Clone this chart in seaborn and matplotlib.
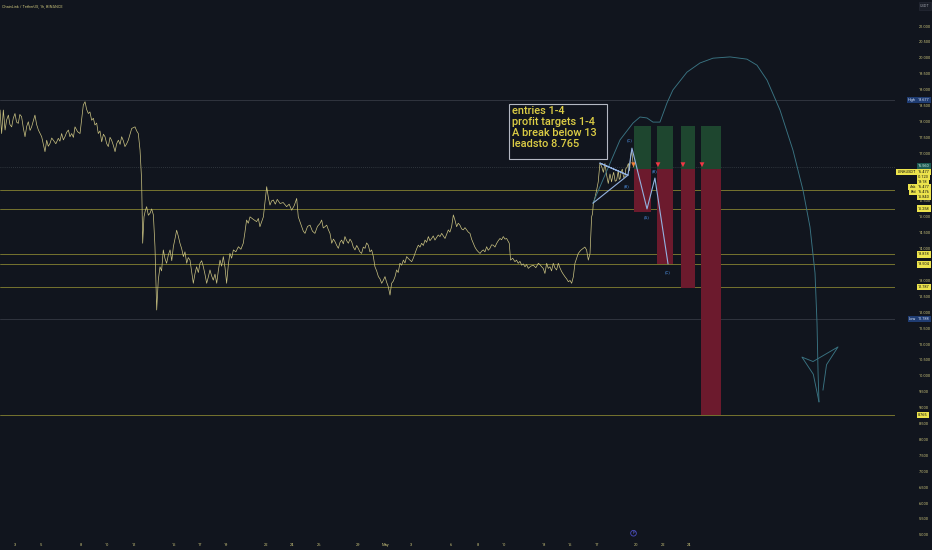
import numpy as np
import pandas as pd
import matplotlib.pyplot as plt
import matplotlib.transforms as mtransforms
from matplotlib.patches import Rectangle
import seaborn as sns

# Price path, LINK/USDT 1h: (days since Apr 1, price)
price_path = [
    (0.88, 18.36), (1.00, 17.62), (1.13, 18.36), (1.26, 17.73), (1.38, 18.05), (1.51, 18.20),
    (1.63, 17.90), (1.76, 17.83), (1.88, 18.10), (2.01, 18.25), (2.13, 17.98), (2.26, 17.94),
    (2.38, 18.22), (2.51, 18.15), (2.64, 17.80), (2.77, 17.52), (2.90, 17.85), (3.02, 17.99),
    (3.15, 17.72), (3.27, 17.83), (3.40, 18.02), (3.52, 18.20), (3.65, 17.90), (3.78, 17.73),
    (4.03, 17.52), (4.15, 17.30), (4.28, 17.05), (4.41, 17.41), (4.53, 17.22), (4.66, 17.31),
    (4.79, 17.48), (4.91, 17.41), (5.10, 17.30), (5.29, 17.47), (5.41, 17.38), (5.54, 17.62),
    (5.67, 17.42), (5.79, 17.52), (5.92, 17.66), (6.05, 17.73), (6.17, 17.52), (6.30, 17.62),
    (6.43, 17.50), (6.55, 17.83), (6.74, 17.68), (6.93, 17.62), (7.18, 18.52), (7.31, 18.62),
    (7.43, 18.38), (7.56, 18.25), (7.68, 18.30), (7.81, 18.04), (7.94, 18.10), (8.06, 17.89),
    (8.19, 17.95), (8.31, 17.62), (8.44, 17.70), (8.57, 17.36), (8.70, 17.60), (8.82, 17.52),
    (8.95, 17.30), (9.07, 17.21), (9.20, 17.50), (9.32, 17.41), (9.45, 17.25), (9.58, 17.05),
    (9.70, 17.30), (9.83, 17.41), (9.96, 17.28), (10.08, 17.52), (10.20, 17.40), (10.33, 17.21),
    (10.46, 17.30), (10.58, 17.41), (10.71, 17.60), (10.84, 17.78), (11.09, 17.83), (11.22, 17.70),
    (11.34, 17.62), (11.47, 17.10), (11.59, 16.16), (11.67, 14.17), (11.77, 15.00), (11.87, 15.20),
    (11.97, 15.32), (12.10, 15.05), (12.22, 15.11), (12.35, 15.25), (12.48, 15.06), (12.60, 14.06),
    (12.73, 12.07), (12.85, 13.01), (12.98, 13.43), (13.10, 13.30), (13.23, 13.96), (13.35, 13.70),
    (13.48, 13.54), (13.61, 13.80), (13.74, 13.96), (13.87, 13.62), (13.99, 14.06), (14.11, 14.30),
    (14.24, 14.58), (14.36, 14.40), (14.49, 14.17), (14.62, 14.00), (14.75, 13.75), (14.87, 13.90),
    (15.00, 13.54), (15.12, 13.72), (15.25, 13.64), (15.37, 13.30), (15.50, 12.91), (15.62, 13.20),
    (15.75, 13.43), (15.88, 13.25), (16.01, 13.54), (16.13, 13.62), (16.26, 13.43), (16.38, 13.20),
    (16.51, 12.91), (16.63, 13.10), (16.76, 13.33), (16.88, 13.15), (17.01, 13.01), (17.14, 13.20),
    (17.27, 12.91), (17.39, 13.30), (17.52, 13.64), (17.64, 13.45), (17.77, 13.75), (17.90, 13.40),
    (18.02, 12.91), (18.15, 13.50), (18.27, 13.85), (18.40, 13.70), (18.53, 13.96), (18.72, 13.90),
    (18.91, 14.06), (19.10, 13.98), (19.28, 14.17), (19.40, 14.50), (19.53, 14.90), (19.66, 14.80),
    (19.79, 15.00), (20.04, 14.92), (20.29, 14.85), (20.42, 14.95), (20.54, 14.69), (20.67, 14.85),
    (20.80, 15.00), (21.05, 15.95), (21.18, 15.60), (21.30, 15.37), (21.42, 15.50), (21.55, 15.53),
    (21.70, 15.40), (21.85, 15.55), (22.06, 15.42), (22.30, 15.45), (22.56, 15.32), (22.75, 15.40),
    (22.94, 15.21), (23.13, 15.35), (23.32, 15.58), (23.44, 15.00), (23.57, 14.85), (23.70, 14.69),
    (23.82, 14.55), (23.95, 14.48), (24.14, 14.70), (24.33, 14.74), (24.51, 14.55), (24.70, 14.48),
    (24.89, 14.70), (25.08, 14.79), (25.21, 14.90), (25.33, 14.65), (25.46, 14.69), (25.59, 14.74),
    (25.71, 14.60), (25.84, 14.48), (25.97, 14.17), (26.10, 14.30), (26.22, 14.22), (26.35, 14.10),
    (26.47, 14.01), (26.60, 14.20), (26.72, 14.27), (26.85, 14.15), (26.97, 14.38), (27.10, 14.25),
    (27.23, 14.17), (27.35, 14.30), (27.48, 14.22), (27.60, 14.05), (27.73, 13.96), (27.86, 14.10),
    (27.98, 14.01), (28.10, 13.90), (28.23, 13.85), (28.36, 14.05), (28.49, 14.01), (28.61, 14.18),
    (28.74, 14.11), (28.86, 13.90), (28.99, 13.96), (29.12, 13.75), (29.24, 13.43), (29.37, 13.30),
    (29.50, 13.12), (29.62, 13.05), (29.75, 12.91), (29.87, 13.00), (30.00, 13.12), (30.12, 12.95),
    (30.25, 12.80), (30.38, 12.54), (30.50, 12.91), (30.63, 12.98), (30.76, 13.12), (30.88, 13.33),
    (31.00, 13.25), (31.13, 13.54), (31.26, 13.48), (31.39, 13.64), (31.51, 13.55), (31.64, 13.75),
    (31.83, 13.66), (32.02, 13.59), (32.14, 13.70), (32.27, 13.85), (32.40, 14.00), (32.52, 14.11),
    (32.65, 14.05), (32.77, 14.17), (32.90, 14.10), (33.03, 14.27), (33.15, 14.20), (33.28, 14.38),
    (33.40, 14.25), (33.53, 14.32), (33.65, 14.40), (33.78, 14.27), (33.90, 14.35), (34.03, 14.43),
    (34.16, 14.38), (34.29, 14.48), (34.41, 14.40), (34.54, 14.32), (34.66, 14.45), (34.79, 14.59),
    (34.91, 14.52), (35.04, 14.69), (35.17, 15.06), (35.29, 14.90), (35.42, 14.69), (35.54, 14.80),
    (35.67, 14.74), (35.80, 14.62), (35.92, 14.59), (36.05, 14.66), (36.18, 14.59), (36.30, 14.52),
    (36.43, 14.48), (36.55, 14.30), (36.68, 14.17), (36.80, 14.05), (36.93, 13.96), (37.06, 13.90),
    (37.19, 13.85), (37.31, 13.92), (37.44, 13.96), (37.56, 13.90), (37.69, 14.06), (37.81, 13.95),
    (37.94, 14.01), (38.06, 14.12), (38.19, 14.11), (38.32, 14.05), (38.45, 14.17), (38.57, 14.25),
    (38.70, 14.32), (38.82, 14.28), (38.95, 14.38), (39.08, 14.30), (39.20, 14.32), (39.40, 14.17),
    (39.50, 13.64), (39.66, 13.70), (39.83, 13.59), (39.95, 13.64), (40.08, 13.54), (40.21, 13.60),
    (40.34, 13.48), (40.46, 13.52), (40.59, 13.43), (40.71, 13.50), (40.84, 13.38), (41.03, 13.45),
    (41.22, 13.48), (41.41, 13.40), (41.60, 13.54), (41.72, 13.50), (41.85, 13.43), (41.97, 13.38),
    (42.10, 13.22), (42.23, 13.54), (42.35, 13.38), (42.48, 13.43), (42.60, 13.30), (42.73, 13.54),
    (42.85, 13.40), (42.98, 13.33), (43.11, 13.54), (43.23, 13.40), (43.36, 13.28), (43.48, 13.20),
    (43.61, 13.12), (43.74, 13.05), (43.87, 12.96), (44.00, 13.00), (44.12, 12.91), (44.25, 13.12),
    (44.37, 13.54), (44.50, 13.70), (44.62, 13.85), (44.81, 13.95), (45.00, 14.01), (45.12, 14.05),
    (45.25, 13.96), (45.38, 13.64), (45.51, 13.85), (45.57, 14.40), (45.63, 15.00), (45.70, 15.10),
    (45.76, 15.42), (45.88, 15.60), (46.01, 15.84), (46.13, 16.10), (46.26, 16.69), (46.39, 16.58),
    (46.52, 16.40), (46.64, 16.68), (46.77, 16.30), (46.89, 16.05), (47.02, 16.35), (47.14, 16.10),
    (47.22, 16.28), (47.30, 16.40), (47.41, 16.12), (47.52, 16.15), (47.65, 16.45), (47.72, 16.18),
    (47.78, 16.20), (47.86, 16.40), (47.95, 16.50), (48.05, 16.24), (48.15, 16.26), (48.22, 16.52),
    (48.30, 16.55), (48.41, 16.68), (48.50, 16.45), (48.58, 16.90), (48.66, 17.10), (48.80, 16.56),
]

# Horizontal levels
level_lines = [15.84, 15.258, 13.818, 13.504, 12.787, 8.765]
high_price = 18.677
low_price = 11.788
last_price = 16.56

# Short positions: entry, stop and four targets
entry_price = 16.52
stop_price = 17.86
target_prices = [15.15, 13.52, 12.76, 8.765]
pos_start = [48.84, 50.57, 52.39, 53.90]
pos_end = [50.12, 51.78, 53.45, 55.42]
arrow_t = [48.80, 50.65, 52.54, 53.98]

# Elliott wave sketch
wave_t = [45.73, 48.38, 46.26, 48.38, 48.68, 49.82, 50.42, 51.41]
wave_v = [15.43, 16.31, 16.69, 16.31, 17.16, 15.25, 16.22, 13.52]
wave_labels = [(46.26, 16.95, "(A)"), (48.25, 15.95, "(B)"), (48.55, 17.40, "(C)"),
               (49.82, 14.98, "(A)"), (50.42, 16.45, "(B)"), (51.41, 13.25, "(C)")]

# Hand drawn forecast curve
curve_t = [45.73, 47.78, 48.76, 49.29, 49.82, 50.27, 50.80, 51.33, 51.78, 52.84, 53.83, 54.81,
           56.10, 57.38, 58.14, 58.90, 59.88, 60.86, 61.62, 62.15, 62.53, 62.68, 62.76, 62.83]
curve_v = [15.43, 17.42, 17.95, 18.14, 18.11, 17.98, 17.98, 18.58, 18.99, 19.55, 19.84, 19.99,
           20.03, 19.96, 19.77, 19.30, 18.36, 17.10, 15.84, 14.68, 13.23, 11.66, 10.09, 9.18]
head_t = [62.83, 62.40, 61.54, 62.38, 64.27, 63.40, 63.13]
head_v = [9.18, 10.05, 10.59, 10.45, 10.91, 10.35, 9.55]

tick_days = [2, 4, 7, 9, 11, 14, 16, 18, 21, 23, 25, 28, 30, 32, 35, 37, 39, 42, 44, 46, 49, 51, 53]
tick_text = ['3', '5', '8', '10', '12', '15', '17', '19', '22', '24', '26', '29', 'May',
             '3', '6', '8', '10', '13', '15', '17', '20', '22', '24']

note = "entries 1-4\nprofit targets 1-4\nA break below 13\nleadsto 8.765"

bg = '#11151e'
txt = '#c9c27a'
sns.set_theme(style="dark", rc={"axes.facecolor": bg, "figure.facecolor": bg})
plt.rcParams['font.family'] = ['Roboto', 'DejaVu Sans']

fig = plt.figure(figsize=(9.32, 5.5), dpi=100)
ax = fig.add_axes([0, 12 / 550, 895 / 932, 538 / 550])
ax.set_facecolor(bg)

df = pd.DataFrame(price_path, columns=["t", "price"])

for y in level_lines:
    ax.axhline(y, color='#858232', lw=0.6, zorder=1)
ax.axhline(high_price, color='#30343f', lw=0.7, zorder=1)
ax.axhline(low_price, color='#30343f', lw=0.7, zorder=1)
ax.axhline(last_price, color='#3a4048', lw=0.6, ls=(0, (1, 1.5)), zorder=1)

sns.lineplot(data=df, x="t", y="price", ax=ax, color='#cdc583', lw=0.5, zorder=3)

for s, e, tp in zip(pos_start, pos_end, target_prices):
    ax.add_patch(Rectangle((s, entry_price), e - s, stop_price - entry_price,
                           fc='#1e462f', ec='none', zorder=2))
    ax.add_patch(Rectangle((s, tp), e - s, entry_price - tp,
                           fc='#6c1a2d', ec='none', zorder=2))
ax.scatter(arrow_t, [16.64] * 4, marker='v', s=12, c=['#f0803a', '#f23645', '#f23645', '#f23645'],
           zorder=5, linewidths=0)

ax.plot(curve_t, curve_v, color='#3a7483', lw=0.65, zorder=4)
ax.plot(head_t, head_v, color='#3a7483', lw=0.65, zorder=4)
ax.plot(wave_t, wave_v, color='#93b2e0', lw=0.8, zorder=5)
for wt, wv, lab in wave_labels:
    ax.text(wt, wv, lab, color='#4d8fe0', fontsize=3.2, ha='center', va='center', zorder=6)

# note box
ax.add_patch(Rectangle((39.38, 16.82), 46.79 - 39.38, 18.55 - 16.82,
                       fc=bg, ec='#b4b8c2', lw=0.8, zorder=6))
ax.text(39.62, 18.48, note, color='#dccd45', fontsize=7.9, fontweight='medium',
        linespacing=1.1, ha='left', va='top', zorder=7)

ax.set_xlim(0.877, 68.58)
ax.set_ylim(4.90, 21.82)
ax.set_xticks(tick_days)
ax.set_xticklabels(tick_text)
ticks_y = np.arange(5, 21.01, 0.5)
ax.yaxis.tick_right()
ax.set_yticks(ticks_y)
ax.set_yticklabels([f"{v:.3f}" for v in ticks_y])
ax.tick_params(axis='x', length=0, pad=3.5, labelsize=2.9, labelcolor=txt)
ax.tick_params(axis='y', length=0, pad=17, labelsize=2.9, labelcolor=txt)
ax.set_xlabel("")
ax.set_ylabel("")
ax.grid(False)
for sp in ax.spines.values():
    sp.set_visible(False)

# price scale labels
tr = mtransforms.blended_transform_factory(fig.transFigure, ax.transData)
vx = 918 / 932


def tag(y, s, fc, tc='#111111', x=vx, ha='left'):
    ax.text(x, y, s, transform=tr, fontsize=2.8, color=tc, ha=ha, va='center',
            clip_on=False, bbox=dict(boxstyle='square,pad=0.3', fc=fc, ec='none'), zorder=8)


tag(high_price, "18.677", '#1f3c72', '#d8e2f5')
tag(low_price, "11.788", '#1f3c72', '#d8e2f5')
tag(16.60, "16.560", '#1d5a52', '#d8f0e8')
stack = [(16.41, "16.477"), (16.25, "-0.123"), (16.09, "13:18"), (15.94, "16.477"),
         (15.78, "16.476"), (15.62, "15.840"), (15.258, "15.258"), (13.818, "13.818"),
         (13.504, "13.504"), (12.787, "12.787"), (8.765, "8.765")]
for y, s in stack:
    tag(y, s, '#ece34c')
side = [(high_price, "High", '#1f3c72', '#d8e2f5'), (low_price, "Low", '#1f3c72', '#d8e2f5'),
        (16.41, "LINKUSDT", '#ece34c', '#111111'), (15.94, "Ask", '#ece34c', '#111111'),
        (15.78, "Bid", '#ece34c', '#111111')]
for y, s, fc, tc in side:
    tag(y, s, fc, tc, x=916 / 932, ha='right')

fig.text(2 / 932, 1 - 6 / 550, "ChainLink / TetherUS, 1h, BINANCE", fontsize=2.8, color=txt,
         ha='left', va='center')
fig.text(925 / 932, 1 - 6 / 550, "USDT", fontsize=2.8, color='#9598a1', ha='center', va='center',
         bbox=dict(boxstyle='square,pad=0.4', fc='#1a1e28', ec='#2a2e39', lw=0.4))
ax.text(48.8, 5.05, "P", fontsize=3, color='#6a6ce0', ha='center', va='center',
        bbox=dict(boxstyle='circle,pad=0.2', fc='none', ec='#4a4cc0', lw=0.6))

plt.savefig("out.png", dpi=100, facecolor=bg)
